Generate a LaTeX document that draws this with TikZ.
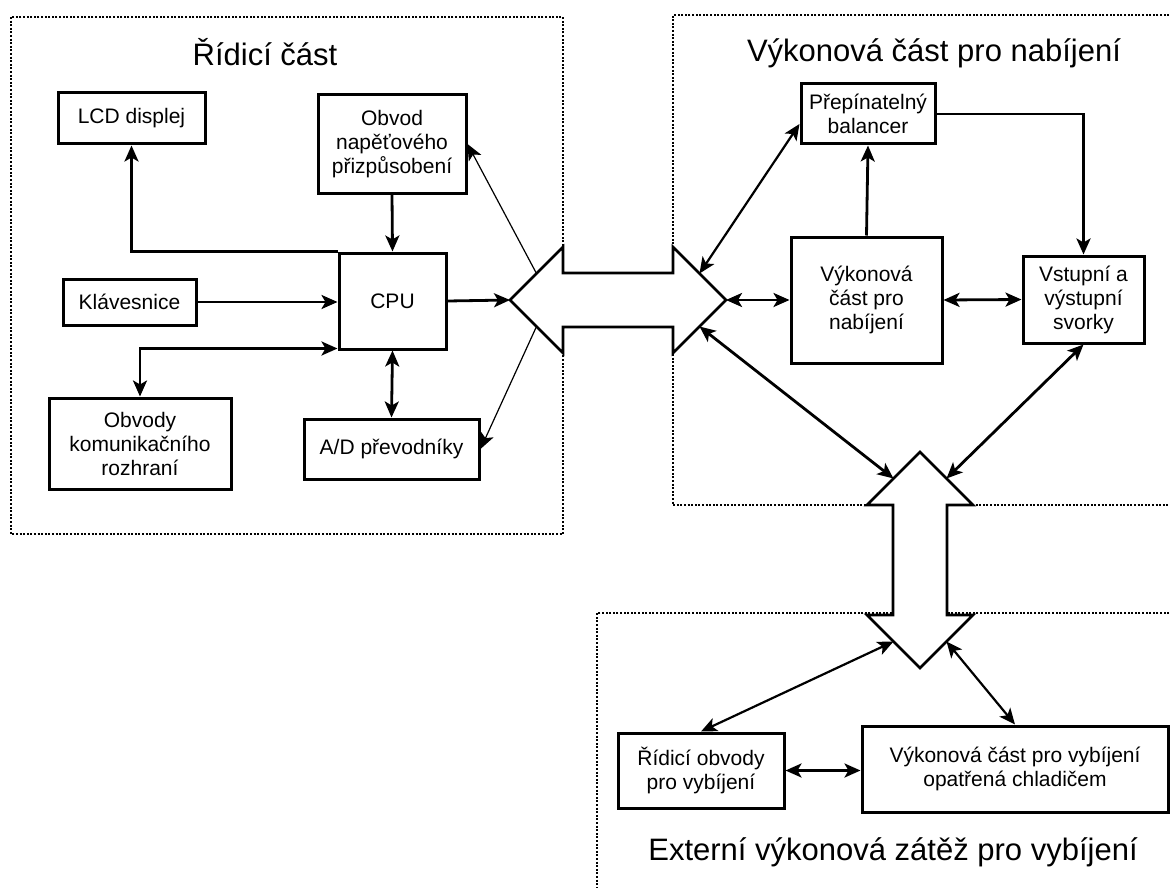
\documentclass[tikz,border=0pt]{standalone}
\usepackage{fontspec}
\setmainfont{Liberation Sans}
\usetikzlibrary{arrows.meta}
\newcommand{\boxfont}{\fontsize{21pt}{24pt}\selectfont}
\newcommand{\zonefont}{\fontsize{31pt}{36pt}\selectfont}
\tikzset{
  block/.style={draw, line width=3pt, align=center, inner sep=0pt, font=\boxfont},
  zone/.style={draw, line width=2pt, dash pattern=on 2pt off 1.6pt},
  zonetitle/.style={anchor=base, font=\zonefont},
  bus/.style={draw, fill=white, line width=2.8pt, line join=miter},
  link/.style={line width=2.8pt},
  midlink/.style={line width=2.2pt},
  thinlink/.style={line width=1.2pt},
}

\begin{document}
\begin{tikzpicture}[x=1pt, y=-1pt, >={Stealth[length=16pt,width=14pt,inset=4pt]}]
  \useasboundingbox (0,0) rectangle (1170,888);

  % dotted areas
  \draw[zone] (11,17) rectangle (563,534);
  \draw[zone] (1180,15) -- (673,15) -- (673,505) -- (1180,505);
  \draw[zone] (1180,613) -- (597,613) -- (597,900);

  \node[zonetitle] (tridici) at (265,66) {Řídicí část};
  \node[zonetitle] (tnabijeni) at (934,62) {Výkonová část pro nabíjení};
  \node[zonetitle] (tzatez) at (893,860) {Externí výkonová zátěž pro vybíjení};

  % hollow bus arrows
  \draw[bus] (510,300) -- (563,247) -- (563,273) -- (673,273) -- (673,247)
    -- (726,300) -- (673,353) -- (673,327) -- (563,327) -- (563,353) -- cycle;
  \draw[bus] (920,452) -- (973,505) -- (947,505) -- (947,615) -- (973,615)
    -- (920,668) -- (867,615) -- (893,615) -- (893,505) -- (867,505) -- cycle;

  \coordinate (busL) at (510,300);
  \coordinate (busLup) at (536.5,273.5);
  \coordinate (busLdn) at (536.5,326.5);
  \coordinate (busR) at (726,300);
  \coordinate (busRup) at (699.5,273.5);
  \coordinate (busRdn) at (699.5,326.5);
  \coordinate (busTl) at (893.5,478.5);
  \coordinate (busTr) at (946.5,478.5);
  \coordinate (busBl) at (893.5,641.5);
  \coordinate (busBr) at (946.5,641.5);

  % control part
  \node[block, minimum width=147, minimum height=51] (lcd) at (131.5,118.5) {LCD displej};
  \node[block, minimum width=148, minimum height=98] (napeti) at (392,144) {Obvod\\napěťového\\přizpůsobení};
  \node[block, minimum width=107, minimum height=96] (cpu) at (392.5,301) {CPU};
  \node[block, minimum width=133, minimum height=46] (klav) at (129.5,302) {Klávesnice};
  \node[block, minimum width=182, minimum height=91] (komun) at (140,443.5) {Obvody\\komunikačního\\rozhraní};
  \node[block, minimum width=175, minimum height=60] (adc) at (391.5,449) {A/D převodníky};

  % charging part
  \node[block, minimum width=134, minimum height=60] (balancer) at (868,114) {Přepínatelný\\balancer};
  \node[block, minimum width=151, minimum height=126] (nabijeni) at (866.5,300) {Výkonová\\část pro\\nabíjení};
  \node[block, minimum width=121, minimum height=87] (svorky) at (1083.5,299.5) {Vstupní a\\výstupní\\svorky};

  % discharging load
  \node[block, minimum width=166, minimum height=75] (ridvyb) at (701,770.5) {Řídicí obvody\\pro vybíjení};
  \node[block, minimum width=306, minimum height=86] (vybijeni) at (1015,769) {Výkonová část pro vybíjení\\opatřená chladičem};

  \draw[link,->] (cpu.north west) -| (lcd.south);
  \draw[link,->] (napeti.south) -- (cpu.north);
  \draw[link,->] (klav.east) -- (klav.east -| cpu.west);
  \draw[link,<->] (komun.north) |- ([yshift=2pt]cpu.south west);
  \draw[link,<->] (cpu.south) -- (adc.north);
  \draw[link,->] (cpu.east) -- (busL);
  \draw[thinlink,->] (busLup) -- (napeti.east);
  \draw[thinlink,->] (busLdn) -- (adc.east);

  \draw[midlink,<->] (busRup) -- ([yshift=-10pt]balancer.west);
  \draw[link,<->] (busR) -- (nabijeni.west);
  \draw[link,->] (nabijeni.north) -- (balancer.south);
  \draw[link,->] (balancer.east) -| (svorky.north);
  \draw[link,<->] (nabijeni.east) -- (svorky.west);
  \draw[link,<->] (busRdn) -- (busTl);
  \draw[link,<->] (svorky.south) -- (busTr);

  \draw[midlink,<->] (busBl) -- (ridvyb.north);
  \draw[midlink,<->] (busBr) -- (vybijeni.north);
  \draw[link,<->] (ridvyb.east) -- (ridvyb.east -| vybijeni.west);
\end{tikzpicture}
\end{document}
